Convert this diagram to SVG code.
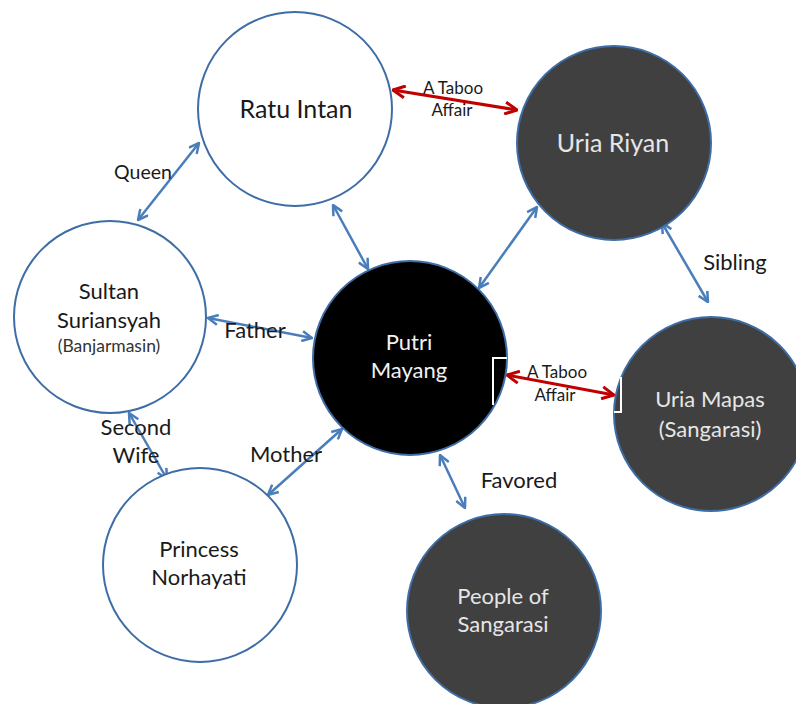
<svg xmlns="http://www.w3.org/2000/svg" width="796" height="704" viewBox="0 0 796 704">
<style>
.node{stroke:#3E6DA6;stroke-width:2}
.w{fill:#ffffff}
.d{fill:#404040}
.b{fill:#000000}
text{font-family:Lato,"Open Sans","Liberation Sans",sans-serif;text-anchor:middle}
.t{font-size:22px;fill:#1a1a1a}
.tl{font-size:25px;fill:#1a1a1a}
.tdl{font-size:25px;fill:#e6e6e6}
.td{font-size:22px;fill:#e6e6e6}
.tb{font-size:22px;fill:#f2f2f2}
.small{font-size:17.5px;fill:#333333}
.lab{font-size:22px;fill:#1a1a1a}
.q{font-size:19.5px;fill:#1a1a1a}
.sm{font-size:17px;fill:#1a1a1a}
.blue{stroke:#4A7EBB;stroke-width:2.5;fill:none;marker-start:url(#ab);marker-end:url(#ab)}
.red{stroke:#C00000;stroke-width:3;fill:none;marker-start:url(#ar);marker-end:url(#ar)}
.art{stroke:#ffffff;stroke-width:2;fill:none}
</style>
<defs>
<marker id="ab" viewBox="0 0 12 12" refX="11" refY="6" markerWidth="12" markerHeight="12" markerUnits="userSpaceOnUse" orient="auto-start-reverse">
<path d="M1,1 L11,6 L1,11" fill="none" stroke="#4A7EBB" stroke-width="2.5" stroke-linejoin="miter"/>
</marker>
<marker id="ar" viewBox="0 0 14 14" refX="13" refY="7" markerWidth="14" markerHeight="14" markerUnits="userSpaceOnUse" orient="auto-start-reverse">
<path d="M1,1 L13,7 L1,13" fill="none" stroke="#C00000" stroke-width="3" stroke-linejoin="miter"/>
</marker>
</defs>
<rect width="796" height="704" fill="#ffffff"/>

<g id="connectors">
<line class="red" x1="393" y1="90" x2="517" y2="110"/>
<line class="red" x1="507" y1="375" x2="614" y2="395"/>
<line class="blue" x1="138" y1="220" x2="199" y2="143"/>
<line class="blue" x1="333" y1="205" x2="368" y2="269"/>
<line class="blue" x1="537" y1="207" x2="479" y2="288"/>
<line class="blue" x1="662" y1="223" x2="708" y2="302"/>
<line class="blue" x1="208" y1="318" x2="312" y2="338"/>
<line class="blue" x1="129" y1="413" x2="167" y2="479"/>
<line class="blue" x1="268" y1="495" x2="342" y2="429"/>
<line class="blue" x1="440" y1="455" x2="465" y2="508"/>
</g>

<g id="labels">
<text class="sm" x="453" y="94">A Taboo</text>
<text class="sm" x="452" y="116">Affair</text>
<text class="sm" x="557" y="378">A Taboo</text>
<text class="sm" x="555" y="401">Affair</text>
<text class="q" x="143" y="179">Queen</text>
<text class="lab" x="735" y="270">Sibling</text>
<text class="lab" x="255" y="338">Father</text>
<text class="lab" x="136" y="435">Second</text>
<text class="lab" x="136" y="463">Wife</text>
<text class="lab" x="286" y="462">Mother</text>
<text class="lab" x="519" y="488">Favored</text>
</g>

<g id="ratu-intan">
<circle class="node w" cx="295" cy="109" r="97"/>
<text class="tl" x="296" y="118">Ratu Intan</text>
</g>

<g id="uria-riyan">
<circle class="node d" cx="614" cy="143" r="97"/>
<text class="tdl" x="613" y="152">Uria Riyan</text>
</g>

<g id="sultan-suriansyah">
<circle class="node w" cx="110" cy="317" r="96"/>
<text class="t" x="109" y="299">Sultan</text>
<text class="t" x="109" y="328">Suriansyah</text>
<text class="small" x="109" y="352">(Banjarmasin)</text>
</g>

<g id="putri-mayang">
<circle class="node b" cx="410" cy="358" r="97"/>
<text class="tb" x="409" y="350">Putri</text>
<text class="tb" x="409" y="378">Mayang</text>
<path class="art" d="M507,358 H493 V405"/>
</g>

<g id="uria-mapas">
<circle class="node d" cx="711" cy="414" r="97"/>
<text class="td" x="710" y="407">Uria Mapas</text>
<text class="td" x="710" y="437">(Sangarasi)</text>
<path class="art" d="M621,377 V412 H614"/>
</g>

<g id="princess-norhayati">
<circle class="node w" cx="200" cy="565" r="97"/>
<text class="t" x="199" y="557">Princess</text>
<text class="t" x="199" y="585">Norhayati</text>
</g>

<g id="people-of-sangarasi">
<circle class="node d" cx="504" cy="611" r="97"/>
<text class="td" x="503" y="604">People of</text>
<text class="td" x="503" y="632">Sangarasi</text>
</g>
</svg>
